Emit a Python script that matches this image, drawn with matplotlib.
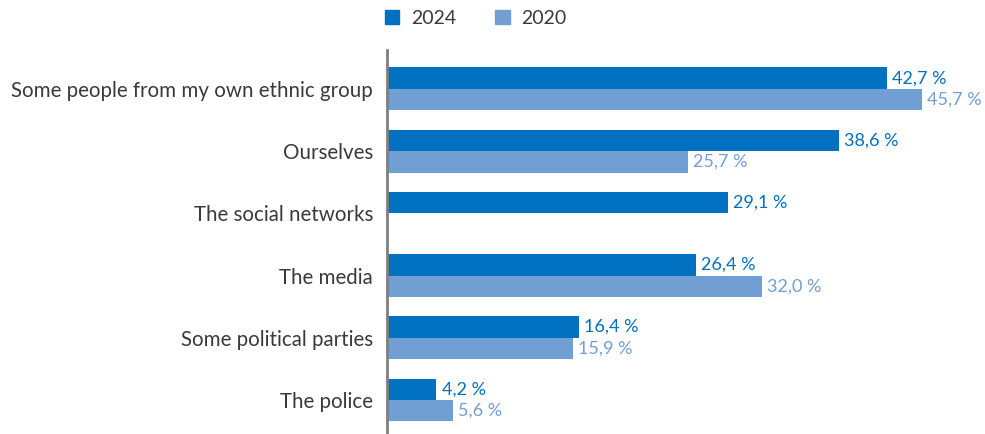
import numpy as np
import matplotlib
matplotlib.use("Agg")
import matplotlib.pyplot as plt
from matplotlib.patches import Patch

categories = ["Some people from my own ethnic group", "Ourselves", "The social networks",
              "The media", "Some political parties", "The police"]
vals_2024 = [42.7, 38.6, 29.1, 26.4, 16.4, 4.2]
vals_2020 = [45.7, 25.7, np.nan, 32.0, 15.9, 5.6]

c24 = "#0070c0"
c20 = "#729fd3"
text_c = "#3a3a3a"
font = "Lato"

fig = plt.figure(figsize=(9.85, 4.34), dpi=100)
ax = fig.add_axes([0.393, 0.0, 0.607, 0.885])

y = np.arange(len(categories))
h = 0.345
ax.barh(y - h / 2, vals_2024, height=h, color=c24, label="2024")
ax.barh(y + h / 2, vals_2020, height=h, color=c20, label="2020")

def fmt(v):
    return f"{v:.1f} %".replace(".", ",")

# value labels, 2020 has no social networks figure
for i, v in enumerate(vals_2024):
    ax.text(v + 0.45, i - h / 2, fmt(v), va="center", ha="left",
            color=c24, fontsize=13, family=font)
for i, v in enumerate(vals_2020):
    if not np.isnan(v):
        ax.text(v + 0.45, i + h / 2, fmt(v), va="center", ha="left",
                color=c20, fontsize=13, family=font)

ax.set_xlim(0, 51.1)
ax.set_ylim(5.547, -0.627)
ax.set_xticks([])
ax.set_yticks(y)
ax.set_yticklabels(categories, fontsize=14.8, color=text_c, family=font)
ax.tick_params(axis="y", length=0, pad=10)
for s in ["top", "right", "bottom"]:
    ax.spines[s].set_visible(False)
ax.spines["left"].set_color("#7f7f7f")
ax.spines["left"].set_linewidth(2)

handles = [Patch(color=c24, label="2024"), Patch(color=c20, label="2020")]
fig.legend(handles=handles, loc="center", bbox_to_anchor=(0.483, 0.958), ncol=2,
           frameon=False, prop={"family": font, "size": 14},
           handlelength=0.75, handleheight=0.75, columnspacing=2.0, handletextpad=0.6,
           labelcolor=text_c)

fig.savefig("out.png", dpi=100, facecolor="white")
